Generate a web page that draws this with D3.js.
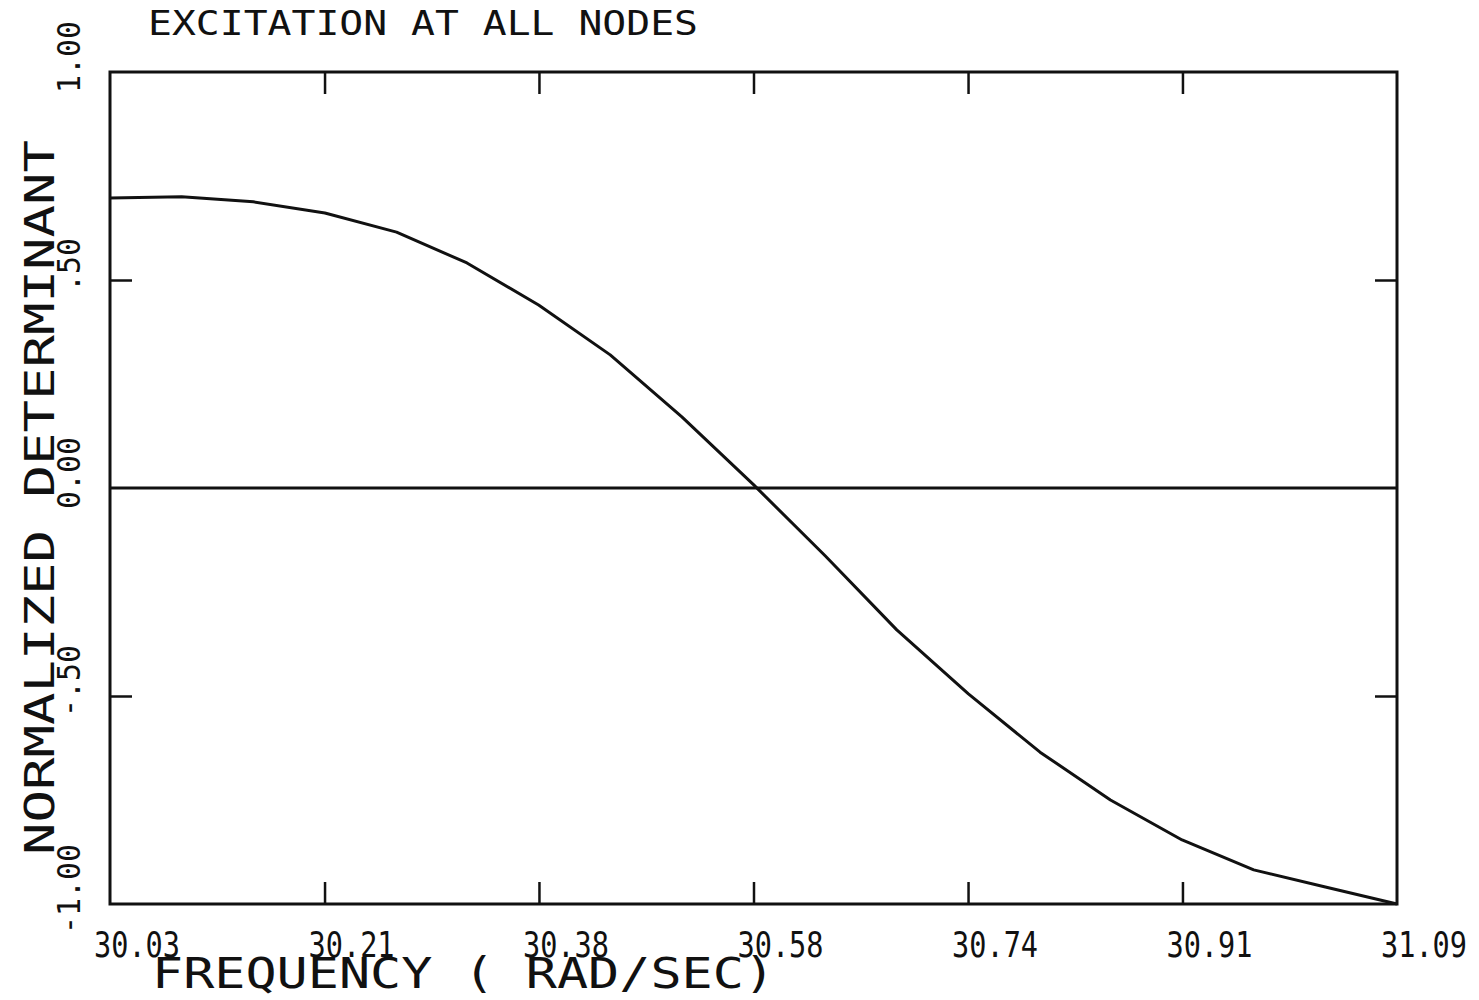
<!DOCTYPE html>
<html>
<head>
<meta charset="utf-8">
<script src="https://cdn.jsdelivr.net/npm/d3@7"></script>
<style>
  html, body { margin: 0; padding: 0; background: #fff; }
  svg { display: block; }
  text { font-family: "DejaVu Sans Mono", "Liberation Mono", monospace; fill: #111; }
</style>
</head>
<body>
<svg id="chart" width="1479" height="1000"></svg>
<script>
// ---- data ----
const titleText = "EXCITATION AT ALL NODES";
const xAxisTitle = "FREQUENCY ( RAD/SEC)";
const yAxisTitle = "NORMALIZED DETERMINANT";

const frequency = [30.030, 30.089, 30.148, 30.207, 30.266, 30.324, 30.383, 30.442, 30.501, 30.560,
                   30.619, 30.678, 30.737, 30.796, 30.854, 30.913, 30.972, 31.031, 31.090];
const determinant = [0.697, 0.700, 0.688, 0.661, 0.615, 0.541, 0.440, 0.320, 0.171, 0.008,
                     -0.163, -0.341, -0.495, -0.635, -0.750, -0.846, -0.918, -0.959, -1.000];

const xTickValues = [30.03, 30.2067, 30.3833, 30.56, 30.7367, 30.9133, 31.09];
const xTickLabels = ["30.03", "30.21", "30.38", "30.58", "30.74", "30.91", "31.09"];
const yTickValues = [1.0, 0.5, 0.0, -0.5, -1.0];
const yTickLabels = ["1.00", ".50", "0.00", "-.50", "-1.00"];

// ---- layout ----
const svg = d3.select("#chart");
const L = 110, R = 1397, T = 72, B = 904;
const x = d3.scaleLinear().domain([30.03, 31.09]).range([L, R]);
const y = d3.scaleLinear().domain([-1, 1]).range([B, T]);
const ink = "#111";

// frame
svg.append("rect")
  .attr("x", L).attr("y", T).attr("width", R - L).attr("height", B - T)
  .attr("fill", "none").attr("stroke", ink).attr("stroke-width", 3);

// inner ticks (no labels) via axes
const innerX = xTickValues.slice(1, -1);
const innerY = [0.5, -0.5];
function styleAxis(g) {
  g.select(".domain").remove();
  g.selectAll(".tick line").attr("stroke", ink).attr("stroke-width", 2.5);
  g.selectAll(".tick text").remove();
}
svg.append("g").attr("transform", `translate(0,${B})`)
  .call(d3.axisBottom(x).tickValues(innerX).tickSize(-22).tickFormat(""))
  .call(styleAxis);
svg.append("g").attr("transform", `translate(0,${T})`)
  .call(d3.axisTop(x).tickValues(innerX).tickSize(-22).tickFormat(""))
  .call(styleAxis);
svg.append("g").attr("transform", `translate(${L},0)`)
  .call(d3.axisLeft(y).tickValues(innerY).tickSize(-22).tickFormat(""))
  .call(styleAxis);
svg.append("g").attr("transform", `translate(${R},0)`)
  .call(d3.axisRight(y).tickValues(innerY).tickSize(-22).tickFormat(""))
  .call(styleAxis);

// zero line
svg.append("line")
  .attr("x1", L).attr("x2", R).attr("y1", y(0)).attr("y2", y(0))
  .attr("stroke", ink).attr("stroke-width", 3);

// curve
const line = d3.line().x((d, i) => x(frequency[i])).y(d => y(d));
svg.append("path")
  .datum(determinant)
  .attr("d", line)
  .attr("fill", "none").attr("stroke", ink).attr("stroke-width", 3)
  .attr("stroke-linejoin", "round");

// x tick labels
svg.append("g").selectAll("text")
  .data(xTickValues)
  .join("text")
  .attr("x", d => x(d) - 16)
  .attr("y", 957)
  .attr("font-size", 35)
  .attr("textLength", 86)
  .attr("lengthAdjust", "spacingAndGlyphs")
  .text((d, i) => xTickLabels[i]);

// y tick labels (rotated)
svg.append("g").selectAll("text")
  .data(yTickValues)
  .join("text")
  .attr("transform", d => `translate(80,${y(d) - 15}) rotate(-90)`)
  .attr("text-anchor", "middle")
  .attr("font-size", 32)
  .attr("textLength", (d, i) => yTickLabels[i].length * 18)
  .attr("lengthAdjust", "spacingAndGlyphs")
  .text((d, i) => yTickLabels[i]);

// title
svg.append("text")
  .attr("x", 148).attr("y", 35)
  .attr("font-size", 34)
  .attr("textLength", 550)
  .attr("lengthAdjust", "spacingAndGlyphs")
  .text(titleText);

// x axis title
svg.append("text")
  .attr("x", 152).attr("y", 988)
  .attr("font-size", 43)
  .attr("textLength", 623)
  .attr("lengthAdjust", "spacingAndGlyphs")
  .text(xAxisTitle);

// y axis title
svg.append("text")
  .attr("transform", "translate(54,855) rotate(-90)")
  .attr("font-size", 41)
  .attr("textLength", 715)
  .attr("lengthAdjust", "spacingAndGlyphs")
  .text(yAxisTitle);
</script>
</body>
</html>
